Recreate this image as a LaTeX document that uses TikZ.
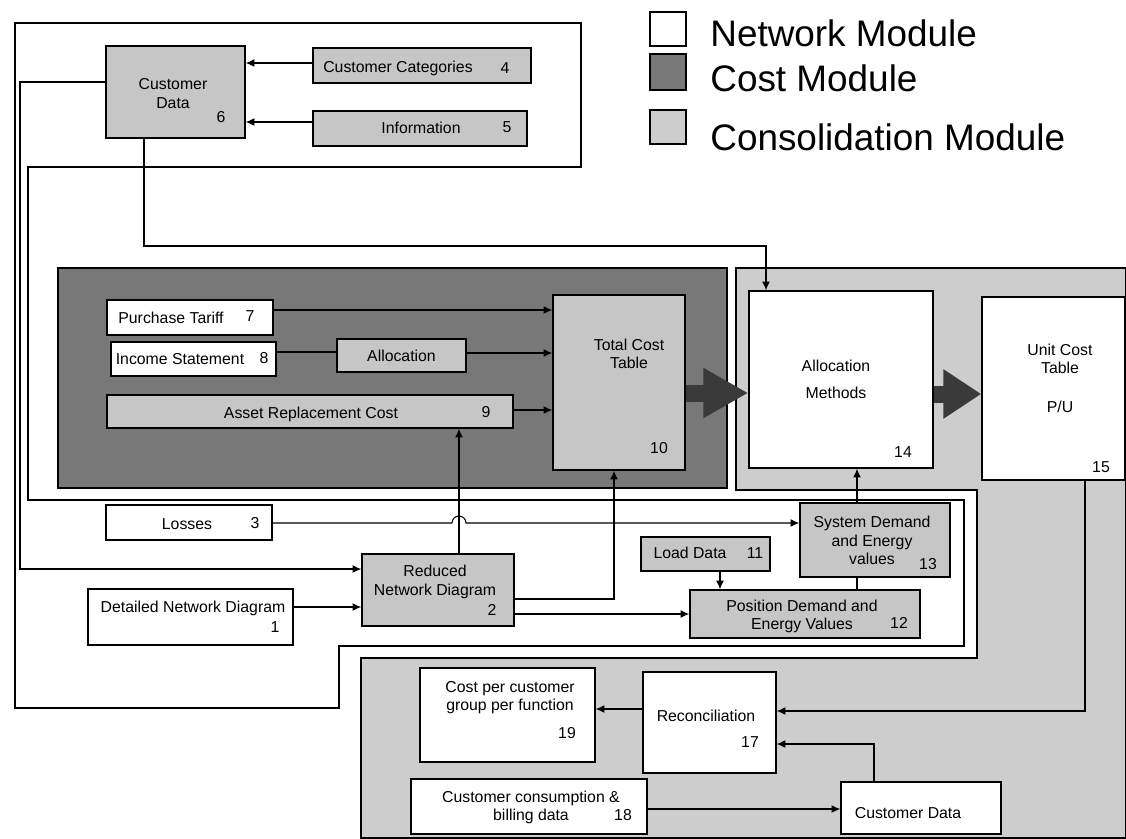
\documentclass[tikz,border=0pt]{standalone}
\usepackage{fontspec}
\setmainfont{Liberation Sans}
\usepackage{tikz}
\usetikzlibrary{arrows,arrows.meta}
\definecolor{costgray}{RGB}{120,120,120}
\definecolor{consgray}{RGB}{205,205,205}
\definecolor{boxgray}{RGB}{198,198,198}
\definecolor{fatgray}{RGB}{58,58,58}

\begin{document}
\begin{tikzpicture}[scale=0.2]
\tikzstyle{every node}+=[inner sep=0pt,align=center,font=\fontsize{9}{10.5}\selectfont]
\tikzstyle{wbox}=[draw=black,line width=0.8pt,fill=white]
\tikzstyle{gbox}=[draw=black,line width=0.8pt,fill=boxgray]
\tikzstyle{arr}=[black,line width=0.6pt,-{Latex[length=5pt,width=4.5pt]}]
\tikzstyle{wire}=[black,line width=0.6pt]
\tikzstyle{fat}=[fatgray,line width=0.34cm,-{Triangle[length=0.9cm,width=0.94cm]}]
\tikzstyle{legend}=[anchor=west,font=\fontsize{21}{24}\selectfont]
\useasboundingbox (0,0) rectangle (112.6,-83.8);
\fill [white] (0,0) rectangle (112.6,-83.8);
\draw [black,line width=0.8pt] (2.8,-16.7) -- (58.1,-16.7) -- (58.1,-2.3) -- (1.5,-2.3) -- (1.5,-70.8) -- (33.9,-70.8) -- (33.9,-64.6) -- (96.4,-64.6) -- (96.4,-50.0) -- (2.8,-50.0) -- cycle;
\draw [black,line width=0.8pt,fill=consgray] (73.6,-26.8) -- (112.6,-26.8) -- (112.6,-83.8) -- (36.1,-83.8) -- (36.1,-65.8) -- (97.7,-65.8) -- (97.7,-49.0) -- (73.6,-49.0) -- cycle;
\node [draw=black,line width=0.8pt,fill=costgray,minimum width=13.38cm,minimum height=4.4cm] (cost) at (39.25,-37.8) {};
\node [wbox,minimum width=0.72cm,minimum height=0.68cm] (legnet) at (66.8,-2.9) {};
\node [draw=black,line width=0.8pt,fill=costgray,minimum width=0.72cm,minimum height=0.72cm] (legcost) at (66.8,-7.2) {};
\node [draw=black,line width=0.8pt,fill=consgray,minimum width=0.72cm,minimum height=0.68cm] (legcons) at (66.8,-12.7) {};
\node [legend] (legnet-t) at (71.0,-3.3) {Network Module};
\node [legend] (legcost-t) at (71.0,-7.8) {Cost Module};
\node [legend] (legcons-t) at (71.0,-13.7) {Consolidation Module};
\node [gbox,minimum width=2.78cm,minimum height=1.84cm] (cd) at (17.55,-9.2) {};
\node (cd-t) at (17.3,-9.35) {Customer\\Data};
\node (cd-n) at (22.1,-11.7) {6};
\node [gbox,minimum width=4.36cm,minimum height=0.7cm] (cc) at (42.2,-6.55) {};
\node (cc-t) at (39.8,-6.8) {Customer Categories};
\node (cc-n) at (50.5,-6.8) {4};
\node [gbox,minimum width=4.28cm,minimum height=0.7cm] (info) at (42.0,-12.85) {};
\node (info-t) at (42.1,-12.8) {Information};
\node (info-n) at (50.7,-12.7) {5};
\node [wbox,minimum width=3.32cm,minimum height=0.7cm] (pt) at (19.0,-31.75) {};
\node (pt-t) at (17.1,-31.8) {Purchase Tariff};
\node (pt-n) at (25.0,-31.6) {7};
\node [wbox,minimum width=3.3cm,minimum height=0.68cm] (inc) at (19.35,-35.9) {};
\node (inc-t) at (18.0,-35.9) {Income Statement};
\node (inc-n) at (26.4,-35.8) {8};
\node [gbox,minimum width=2.58cm,minimum height=0.66cm] (alloc) at (40.15,-35.55) {};
\node (alloc-t) at (40.15,-35.6) {Allocation};
\node [gbox,minimum width=8.12cm,minimum height=0.66cm] (asset) at (31.0,-41.15) {};
\node (asset-t) at (31.1,-41.4) {Asset Replacement Cost};
\node (asset-n) at (48.6,-41.2) {9};
\node [gbox,minimum width=2.64cm,minimum height=3.5cm] (tct) at (61.9,-38.25) {};
\node (tct-t) at (62.9,-35.4) {Total Cost\\Table};
\node (tct-n) at (65.9,-44.8) {10};
\node [wbox,minimum width=3.68cm,minimum height=3.54cm] (am) at (84.1,-37.95) {};
\node (am-t) at (83.6,-37.9) {Allocation\\[1.0ex]Methods};
\node (am-n) at (90.3,-45.2) {14};
\node [wbox,minimum width=2.86cm,minimum height=3.66cm] (uct) at (105.35,-38.85) {};
\node (uct-t) at (106.0,-35.9) {Unit Cost\\Table};
\node (uct-u) at (106.0,-40.7) {P/U};
\node (uct-n) at (110.1,-46.7) {15};
\node [wbox,minimum width=3.32cm,minimum height=0.7cm] (losses) at (18.9,-52.25) {};
\node (losses-t) at (18.7,-52.4) {Losses};
\node (losses-n) at (25.5,-52.3) {3};
\node [gbox,minimum width=3.04cm,minimum height=1.44cm] (rnd) at (43.8,-59.0) {};
\node (rnd-t) at (43.5,-58.2) {Reduced\\Network Diagram};
\node (rnd-n) at (49.2,-61.0) {2};
\node [wbox,minimum width=4.1cm,minimum height=1.12cm] (dnd) at (19.05,-61.7) {};
\node (dnd-t) at (19.3,-60.8) {Detailed Network Diagram};
\node (dnd-n) at (27.5,-62.7) {1};
\node [gbox,minimum width=2.58cm,minimum height=0.68cm] (load) at (70.55,-55.4) {};
\node (load-t) at (69.0,-55.3) {Load Data};
\node (load-n) at (75.5,-55.3) {11};
\node [gbox,minimum width=3.0cm,minimum height=1.48cm] (sysd) at (87.5,-54.0) {};
\node (sysd-t) at (87.2,-54.05) {System Demand\\and Energy\\values};
\node (sysd-n) at (92.8,-56.4) {13};
\node [gbox,minimum width=4.6cm,minimum height=0.96cm] (posd) at (80.5,-61.4) {};
\node (posd-t) at (80.2,-61.65) {Position Demand and\\Energy Values};
\node (posd-n) at (89.9,-62.3) {12};
\node [wbox,minimum width=3.5cm,minimum height=1.88cm] (cpc) at (50.75,-71.5) {};
\node (cpc-t) at (51.0,-69.75) {Cost per customer\\group per function};
\node (cpc-n) at (56.7,-73.3) {19};
\node [wbox,minimum width=2.66cm,minimum height=2.02cm] (recon) at (70.95,-72.25) {};
\node (recon-t) at (70.6,-71.6) {Reconciliation};
\node (recon-n) at (75.0,-74.2) {17};
\node [wbox,minimum width=4.72cm,minimum height=1.1cm] (ccb) at (52.9,-80.65) {};
\node (ccb-t) at (53.1,-80.75) {Customer consumption \&\\billing data};
\node (ccb-n) at (62.3,-81.5) {18};
\node [wbox,minimum width=3.2cm,minimum height=1.04cm] (cd2) at (92.1,-80.8) {};
\node (cd2-t) at (90.8,-81.3) {Customer Data};
\draw [arr] (cc.west |- 0,-6.3) -- (cd.east |- 0,-6.3);
\draw [arr] (info.west |- 0,-12.2) -- (cd.east |- 0,-12.2);
\draw [arr] (cd.west |- 0,-8.2) -| (2.0,-56.9) -- (rnd.west |- 0,-56.9);
\draw [arr] (cd.south -| 14.4,0) |- (76.6,-24.6) -- (am.north -| 76.6,0);
\draw [arr] (pt.east |- 0,-31.0) -- (tct.west |- 0,-31.0);
\draw [wire] (inc.east |- 0,-35.2) -- (alloc.west |- 0,-35.2);
\draw [arr] (alloc.east |- 0,-35.3) -- (tct.west |- 0,-35.3);
\draw [arr] (asset.east |- 0,-41.0) -- (tct.west |- 0,-41.0);
\draw [fat] (tct.east |- 0,-39.3) -- (am.west |- 0,-39.3);
\draw [fat,-{Triangle[length=0.76cm,width=0.94cm]}] (am.east |- 0,-39.4) -- (uct.west |- 0,-39.4);
\draw [arr] (losses.east |- 0,-52.3) -- (45.2,-52.3) arc [start angle=180,end angle=0,radius=0.7] -- (sysd.west |- 0,-52.3);
\draw [arr] (rnd.north -| 45.9,0) -- (asset.south -| 45.9,0);
\draw [arr] (dnd.east |- 0,-60.7) -- (rnd.west |- 0,-60.7);
\draw [arr] (rnd.east |- 0,-59.9) -| (tct.south -| 61.4,0);
\draw [arr] (rnd.east |- 0,-61.4) -- (posd.west |- 0,-61.4);
\draw [arr] (load.south -| 72.0,0) -- (posd.north -| 72.0,0);
\draw [wire] (posd.north -| 85.7,0) -- (sysd.south -| 85.7,0);
\draw [arr] (sysd.north -| 85.7,0) -- (am.south -| 85.7,0);
\draw [arr] (recon.west |- 0,-70.9) -- (cpc.east |- 0,-70.9);
\draw [arr] (uct.south -| 108.5,0) |- (recon.east |- 0,-71.1);
\draw [arr] (cd2.north -| 87.4,0) |- (recon.east |- 0,-74.4);
\draw [arr] (ccb.east |- 0,-80.9) -- (cd2.west |- 0,-80.9);
\end{tikzpicture}
\end{document}
